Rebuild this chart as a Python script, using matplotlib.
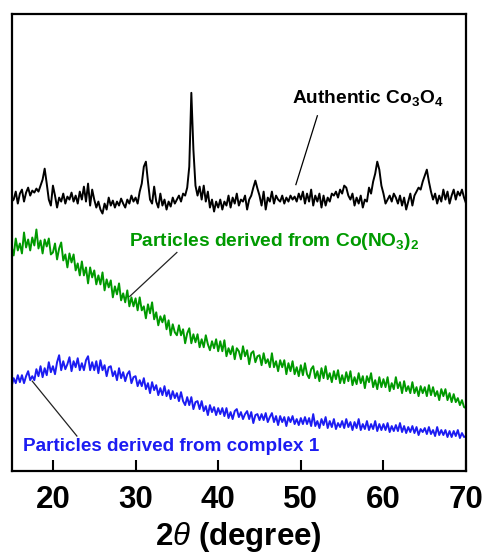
import matplotlib
matplotlib.use('agg')
import matplotlib.pyplot as plt
import numpy as np

# XRD traces at 0.25 degree steps (15 .. 70)
two_theta_start = 15.0
two_theta_step = 0.25

# authentic Co3O4
co3o4 = [
  270, 272, 280, 268, 278, 282, 270, 279, 284, 276, 281, 279, 283, 280, 286, 292, 303, 288, 272, 266,
  286, 276, 264, 274, 270, 278, 268, 275, 272, 279, 270, 276, 268, 280, 272, 285, 270, 288, 266, 282,
  272, 264, 270, 262, 258, 268, 262, 274, 266, 271, 264, 270, 266, 273, 268, 264, 272, 268, 276, 270,
  274, 268, 280, 288, 305, 310, 290, 272, 268, 285, 270, 264, 278, 266, 272, 262, 270, 265, 274, 268,
  272, 276, 270, 278, 276, 284, 305, 379, 322, 286, 276, 285, 272, 286, 270, 280, 264, 272, 260, 270,
  264, 272, 262, 270, 266, 276, 264, 274, 268, 278, 266, 272, 270, 276, 262, 272, 276, 284, 291, 283,
  276, 266, 280, 262, 274, 270, 280, 268, 276, 272, 270, 276, 268, 274, 270, 276, 272, 275, 270, 278,
  272, 280, 268, 278, 270, 282, 266, 276, 270, 278, 264, 276, 266, 274, 270, 278, 276, 280, 274, 282,
  278, 286, 284, 276, 272, 278, 266, 274, 268, 276, 264, 272, 270, 284, 278, 290, 298, 310, 302, 286,
  278, 268, 272, 276, 270, 278, 274, 268, 276, 266, 274, 262, 270, 278, 266, 276, 280, 284, 282, 290,
  296, 302, 290, 280, 272, 278, 268, 276, 270, 282, 272, 280, 268, 276, 282, 272, 280, 276, 282, 274,
  268]

# particles from Co(NO3)2
from_nitrate = [
  225, 216, 233, 221, 228, 218, 239, 224, 232, 221, 234, 226, 242, 223, 231, 218, 232, 225, 233, 217,
  219, 228, 212, 223, 229, 211, 217, 204, 218, 209, 217, 201, 208, 196, 210, 196, 204, 188, 204, 194,
  201, 187, 196, 187, 199, 181, 192, 184, 191, 174, 185, 177, 188, 171, 178, 169, 181, 165, 174, 165,
  173, 161, 174, 161, 165, 153, 167, 158, 169, 152, 159, 146, 155, 149, 156, 142, 151, 136, 147, 139,
  136, 146, 136, 142, 128, 138, 143, 128, 137, 129, 137, 124, 132, 124, 136, 127, 121, 130, 123, 132,
  120, 130, 120, 131, 115, 123, 117, 125, 112, 123, 120, 112, 125, 115, 121, 107, 118, 120, 109, 115,
  116, 106, 118, 108, 112, 104, 118, 104, 110, 100, 111, 104, 111, 97, 108, 100, 110, 97, 104, 95,
  106, 96, 108, 97, 93, 102, 105, 93, 100, 90, 103, 93, 105, 92, 98, 89, 100, 92, 101, 88,
  96, 88, 99, 90, 100, 86, 94, 87, 98, 88, 95, 83, 95, 89, 98, 84, 91, 82, 94, 84,
  92, 84, 94, 80, 88, 82, 94, 83, 89, 78, 90, 80, 85, 78, 89, 78, 84, 75, 85, 78,
  84, 75, 86, 76, 84, 75, 80, 71, 82, 75, 82, 71, 78, 69, 77, 69, 73, 66, 71, 64,
  63]

# particles from complex 1
from_complex = [
  85, 93, 88, 96, 89, 96, 88, 95, 100, 91, 95, 91, 102, 95, 105, 94, 103, 96, 109, 99,
  105, 97, 109, 116, 101, 110, 102, 107, 114, 100, 110, 104, 113, 101, 108, 101, 111, 115, 101, 109,
  101, 110, 98, 111, 101, 106, 95, 104, 105, 95, 100, 91, 103, 93, 99, 90, 97, 100, 88, 94,
  95, 85, 91, 85, 93, 82, 88, 78, 89, 81, 86, 76, 83, 76, 85, 75, 81, 72, 80, 73,
  78, 70, 79, 70, 66, 74, 66, 74, 62, 69, 70, 62, 70, 60, 65, 56, 66, 59, 64, 56,
  63, 57, 63, 55, 63, 53, 59, 52, 60, 62, 54, 59, 52, 57, 60, 52, 59, 48, 56, 57,
  51, 57, 51, 58, 49, 54, 58, 49, 55, 46, 55, 49, 54, 45, 54, 49, 55, 47, 52, 46,
  53, 47, 54, 47, 53, 45, 57, 45, 50, 43, 52, 46, 54, 43, 50, 44, 52, 42, 48, 44,
  50, 43, 52, 44, 49, 41, 49, 43, 52, 41, 47, 42, 50, 41, 47, 42, 50, 40, 47, 41,
  47, 41, 48, 39, 45, 40, 46, 40, 48, 39, 45, 38, 44, 39, 45, 38, 44, 36, 42, 39,
  43, 37, 44, 37, 41, 35, 44, 36, 41, 36, 41, 34, 40, 34, 40, 35, 41, 33, 38, 34,
  35]

labels = ['Authentic Co$_3$O$_4$',
          'Particles derived from Co(NO$_3$)$_2$',
          'Particles derived from complex 1']
x_ticks = [20, 30, 40, 50, 60, 70]

green = '#009a00'
blue = '#1c1cf2'

plt.rcParams['font.family'] = 'Liberation Sans'
plt.rcParams['font.weight'] = 'bold'
plt.rcParams['mathtext.fontset'] = 'custom'
plt.rcParams['mathtext.rm'] = 'Liberation Sans:bold'
plt.rcParams['mathtext.it'] = 'Liberation Sans:style=italic:weight=normal'
plt.rcParams['mathtext.bf'] = 'Liberation Sans:bold'

two_theta = two_theta_start + two_theta_step * np.arange(len(co3o4))

fig = plt.figure(figsize=(4.84, 5.6), dpi=100)
ax = fig.add_axes([0.024, 0.159, 0.939, 0.816])

ax.plot(two_theta, co3o4, color='black', lw=1.4)
ax.plot(two_theta, from_nitrate, color=green, lw=1.4)
ax.plot(two_theta, from_complex, color=blue, lw=1.4)

# labels with pointer lines
ax.text(58.1, 374, labels[0], ha='center', va='center', fontsize=13.8, color='black')
ax.plot([52.0, 49.4], [356, 287], color='black', lw=0.9)
ax.text(46.8, 230, labels[1], ha='center', va='center', fontsize=13.8, color=green)
ax.plot([35.0, 29.3], [219, 175], color='#222222', lw=0.9)
ax.text(34.3, 25, labels[2], ha='center', va='center', fontsize=13.6, color=blue)
ax.plot([22.9, 17.5], [35, 90], color='#222222', lw=0.9)

ax.set_xlim(15, 70)
ax.set_ylim(0, 458)
ax.set_xticks(x_ticks)
ax.set_yticks([])
ax.tick_params(axis='x', direction='in', length=8, width=1.5, pad=10, labelsize=22.5)
for sp in ax.spines.values():
  sp.set_linewidth(1.6)
ax.set_xlabel(r'2$\mathit{\theta}$ (degree)', fontsize=22.5, fontweight='bold', labelpad=4)

fig.savefig('out.png', dpi=100)
